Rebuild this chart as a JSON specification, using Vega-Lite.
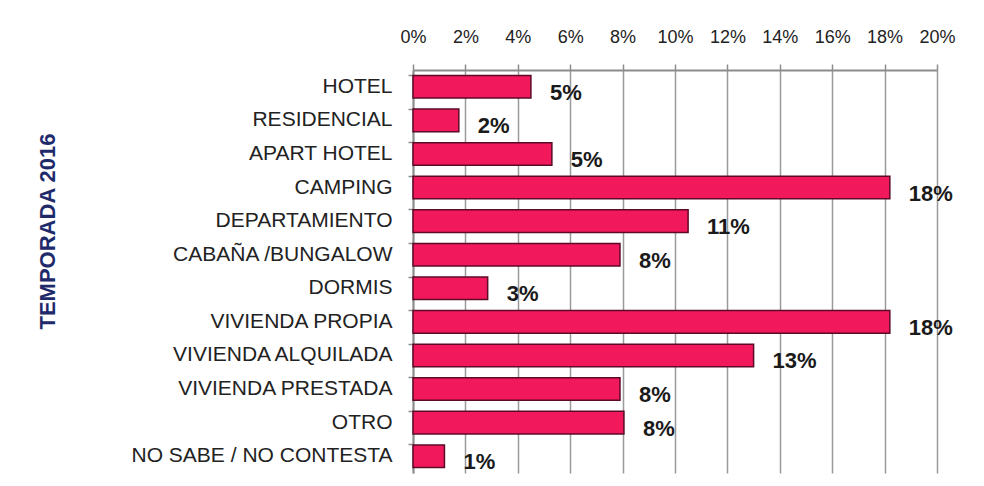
{
  "$schema": "https://vega.github.io/schema/vega-lite/v6.json",
  "width": 524,
  "height": 403,
  "autosize": {"type": "none"},
  "padding": {"left": 413, "top": 70, "right": 47, "bottom": 13},
  "background": "white",
  "config": {"view": {"stroke": null}, "font": "Liberation Sans"},
  "data": {
    "values": [
      {"tipo": "HOTEL", "pct": 4.5, "label": "5%"},
      {"tipo": "RESIDENCIAL", "pct": 1.75, "label": "2%"},
      {"tipo": "APART HOTEL", "pct": 5.3, "label": "5%"},
      {"tipo": "CAMPING", "pct": 18.2, "label": "18%"},
      {"tipo": "DEPARTAMIENTO", "pct": 10.5, "label": "11%"},
      {"tipo": "CABAÑA /BUNGALOW", "pct": 7.9, "label": "8%"},
      {"tipo": "DORMIS", "pct": 2.85, "label": "3%"},
      {"tipo": "VIVIENDA PROPIA", "pct": 18.2, "label": "18%"},
      {"tipo": "VIVIENDA ALQUILADA", "pct": 13.0, "label": "13%"},
      {"tipo": "VIVIENDA PRESTADA", "pct": 7.9, "label": "8%"},
      {"tipo": "OTRO", "pct": 8.05, "label": "8%"},
      {"tipo": "NO SABE / NO CONTESTA", "pct": 1.2, "label": "1%"}
    ]
  },
  "encoding": {
    "y": {
      "field": "tipo",
      "type": "nominal",
      "sort": null,
      "scale": {"paddingInner": 0.33, "paddingOuter": 0.165},
      "axis": {
        "title": "TEMPORADA 2016",
        "titleColor": "#1F2A6B",
        "titleFont": "Liberation Sans",
        "titleFontWeight": "bold",
        "titleFontSize": 22,
        "titleAngle": -90,
        "titleX": -366,
        "titleY": 161,
        "titleAlign": "center",
        "titleBaseline": "middle",
        "labelFontSize": 21,
        "labelColor": "#222222",
        "labelPadding": 16,
        "tickSize": 5,
        "tickColor": "#8c8c8c",
        "tickWidth": 1.5,
        "bandPosition": 0,
        "domainColor": "#8c8c8c",
        "domainWidth": 2,
        "labelLimit": 400
      }
    },
    "x": {
      "field": "pct",
      "type": "quantitative",
      "scale": {"domain": [0, 20], "nice": false},
      "axis": {
        "orient": "top",
        "title": null,
        "values": [0, 2, 4, 6, 8, 10, 12, 14, 16, 18, 20],
        "labelExpr": "datum.value + '%'",
        "labelOverlap": false,
        "labelFlush": false,
        "labelFontSize": 18,
        "labelColor": "#222222",
        "labelPadding": 18,
        "tickSize": 6,
        "tickColor": "#8c8c8c",
        "tickWidth": 1.5,
        "domainColor": "#8c8c8c",
        "domainWidth": 2,
        "grid": true,
        "gridColor": "#9a9a9a",
        "gridWidth": 1.5
      }
    }
  },
  "layer": [
    {
      "mark": {"type": "bar", "fill": "#F2185C", "stroke": "#5C0A28", "strokeWidth": 1.5}
    },
    {
      "mark": {"type": "text", "align": "left", "baseline": "middle", "dx": 19, "dy": 6, "fontSize": 22, "fontWeight": "bold", "color": "#1a1a1a"},
      "encoding": {"text": {"field": "label"}}
    }
  ]
}
